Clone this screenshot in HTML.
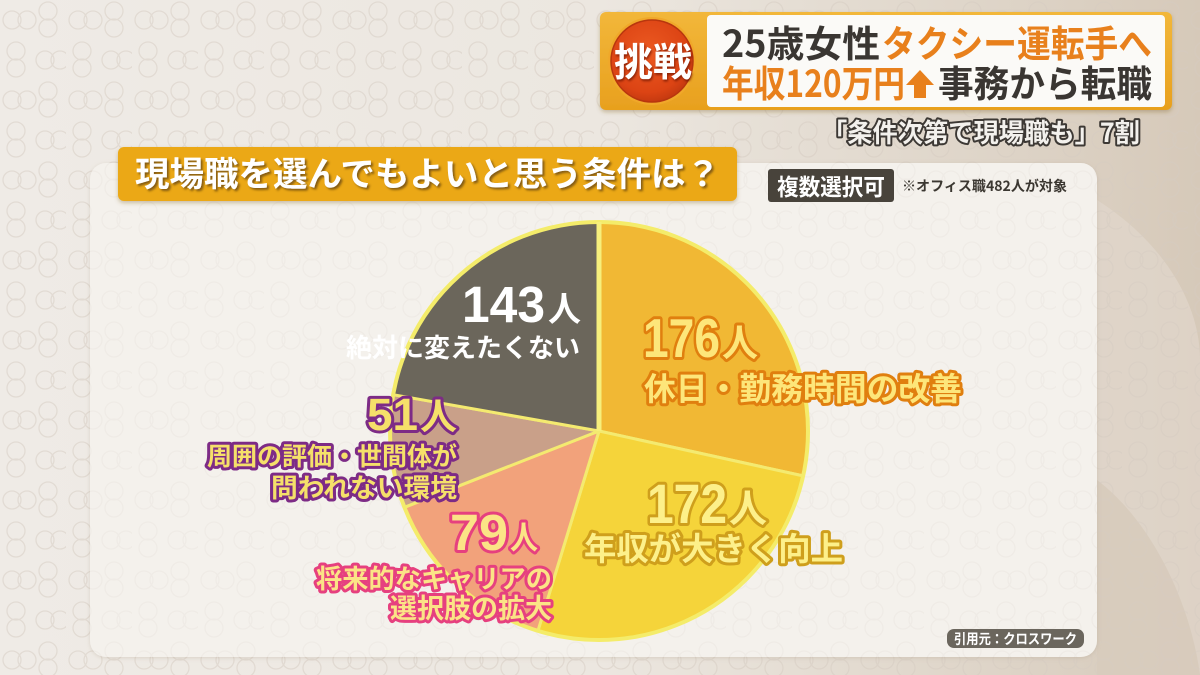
<!DOCTYPE html>
<html><head><meta charset="utf-8">
<style>
html,body{margin:0;padding:0;width:1200px;height:675px;overflow:hidden;background:#e8e2da}
svg{display:block}
text{font-family:"Liberation Sans","Noto Sans CJK JP",sans-serif;font-weight:700}
.jp{font-family:"Noto Sans CJK JP","Liberation Sans",sans-serif;font-weight:700}
.ol{paint-order:stroke;stroke-linejoin:round;stroke-linecap:round}
</style></head><body>
<svg width="1200" height="675" viewBox="0 0 1200 675" xmlns="http://www.w3.org/2000/svg">
<defs>
 <linearGradient id="bg" x1="0" y1="0" x2="1" y2="0">
  <stop offset="0" stop-color="#efebe6"/>
  <stop offset="0.5" stop-color="#ece7e0"/>
  <stop offset="0.85" stop-color="#ddd3c6"/>
  <stop offset="1" stop-color="#d6c9b9"/>
 </linearGradient>
 <pattern id="circ" width="66" height="80" patternUnits="userSpaceOnUse">
  <g fill="none" stroke="#d5cbc1" stroke-width="1.3">
   <circle cx="12" cy="20" r="9"/><circle cx="27" cy="20" r="9"/>
   <circle cx="48" cy="11" r="9"/><circle cx="48" cy="28" r="9"/>
   <circle cx="45" cy="60" r="9"/><circle cx="60" cy="60" r="9"/>
   <circle cx="16" cy="51" r="9"/><circle cx="16" cy="68" r="9"/>
  </g>
 </pattern>
 <radialGradient id="red" cx="0.45" cy="0.4" r="0.6">
  <stop offset="0" stop-color="#ec5a22"/>
  <stop offset="0.8" stop-color="#dc4414"/>
  <stop offset="1" stop-color="#c63a10"/>
 </radialGradient>
 <linearGradient id="frame" x1="0" y1="0" x2="0" y2="1">
  <stop offset="0" stop-color="#f2b73a"/>
  <stop offset="1" stop-color="#e8a01e"/>
 </linearGradient>
 <filter id="sh" x="-10%" y="-30%" width="120%" height="160%">
  <feDropShadow dx="2" dy="2" stdDeviation="1" flood-color="#5a3e0c" flood-opacity="0.7"/>
 </filter>
 <filter id="boxsh" x="-5%" y="-20%" width="110%" height="150%">
  <feDropShadow dx="0" dy="2" stdDeviation="2" flood-color="#7a5a20" flood-opacity="0.35"/>
 </filter>
 <filter id="panelsh" x="-5%" y="-5%" width="110%" height="110%">
  <feDropShadow dx="0" dy="1" stdDeviation="2" flood-color="#a89880" flood-opacity="0.3"/>
 </filter>
</defs>

<!-- background -->
<rect x="0" y="0" width="1200" height="675" fill="url(#bg)"/>
<path d="M1097 200 C1160 240 1200 300 1200 360 L1200 675 L1097 675 Z" fill="#e2d9ce" opacity="0.6"/>
<path d="M1097 480 C1150 520 1190 600 1200 675 L1097 675 Z" fill="#d3c6b5" opacity="0.6"/>
<rect x="0" y="0" width="1200" height="675" fill="url(#circ)" opacity="0.5"/>

<!-- panel -->
<rect x="90" y="163" width="1007" height="494" rx="16" fill="#f4f1ec" filter="url(#panelsh)"/>
<rect x="90" y="163" width="1007" height="494" rx="16" fill="url(#circ)" opacity="0.15"/>

<!-- title banner -->
<rect x="118" y="147" width="619" height="54" rx="6" fill="#eba817" filter="url(#boxsh)"/>
<text class="jp" x="135" y="186" font-size="34" fill="#ffffff" textLength="585" lengthAdjust="spacingAndGlyphs" filter="url(#sh)">現場職を選んでもよいと思う条件は？</text>

<!-- multi select -->
<rect x="768" y="169" width="126" height="33" rx="3" fill="#48433b"/>
<text class="jp" x="777" y="195" font-size="23" fill="#ffffff" textLength="108" lengthAdjust="spacingAndGlyphs">複数選択可</text>
<text class="jp" x="902" y="191" font-size="14" fill="#3b3731" textLength="165" lengthAdjust="spacingAndGlyphs">※オフィス職482人が対象</text>

<!-- pie -->
<g stroke="#f4ea70" stroke-width="3" stroke-linejoin="round">
 <path d="M599 431 L599 222 A209 209 0 0 1 803.1 475.9 Z" fill="#f1b834"/>
 <path d="M599 431 L803.1 475.9 A209 209 0 0 1 537.9 630.9 Z" fill="#f5d43a"/>
 <path d="M599 431 L537.9 630.9 A209 209 0 0 1 404.4 507.3 Z" fill="#f2a27b"/>
 <path d="M599 431 L404.4 507.3 A209 209 0 0 1 393.2 394.7 Z" fill="#c9a089"/>
 <path d="M599 431 L393.2 394.7 A209 209 0 0 1 599 222 Z" fill="#6b665b"/>
</g>
<circle cx="599" cy="431" r="209" fill="none" stroke="#f4ec6a" stroke-width="4"/>
<line x1="599" y1="222" x2="599" y2="431" stroke="#f6ef7c" stroke-width="5"/>

<!-- 143 -->
<text x="462" y="322" font-size="51" fill="#ffffff" textLength="83" lengthAdjust="spacingAndGlyphs">143</text>
<text class="jp" x="548" y="321" font-size="34" fill="#ffffff" textLength="33" lengthAdjust="spacingAndGlyphs">人</text>
<text class="jp" x="346" y="357" font-size="26" fill="#ffffff" textLength="234" lengthAdjust="spacingAndGlyphs">絶対に変えたくない</text>

<!-- 176 -->
<g class="ol" fill="#fde67a" stroke="#e07f0f" stroke-width="6">
 <text x="643" y="357" font-size="55" textLength="77" lengthAdjust="spacingAndGlyphs">176</text>
 <text class="jp" x="722" y="356" font-size="37" textLength="36" lengthAdjust="spacingAndGlyphs">人</text>
 <text class="jp" x="644" y="400" font-size="32" textLength="318" lengthAdjust="spacingAndGlyphs">休日・勤務時間の改善</text>
</g>

<!-- 172 -->
<g class="ol" fill="#fdf08a" stroke="#cf9f1c" stroke-width="6">
 <text x="647" y="523" font-size="56" textLength="80" lengthAdjust="spacingAndGlyphs">172</text>
 <text class="jp" x="729" y="522" font-size="38" textLength="38" lengthAdjust="spacingAndGlyphs">人</text>
 <text class="jp" x="584" y="560" font-size="32" textLength="259" lengthAdjust="spacingAndGlyphs">年収が大きく向上</text>
</g>

<!-- 79 -->
<g class="ol" fill="#fbe486" stroke="#e6407f" stroke-width="6">
 <text x="450" y="550" font-size="51" textLength="58" lengthAdjust="spacingAndGlyphs">79</text>
 <text class="jp" x="510" y="549" font-size="32" textLength="28" lengthAdjust="spacingAndGlyphs">人</text>
 <text class="jp" x="316" y="588" font-size="26" textLength="236" lengthAdjust="spacingAndGlyphs">将来的なキャリアの</text>
 <text class="jp" x="390" y="618" font-size="27" textLength="162" lengthAdjust="spacingAndGlyphs">選択肢の拡大</text>
</g>

<!-- 51 -->
<g class="ol" fill="#f5e06a" stroke="#7d2b86" stroke-width="6">
 <text x="367" y="430" font-size="45" textLength="51" lengthAdjust="spacingAndGlyphs">51</text>
 <text class="jp" x="420" y="429" font-size="36" textLength="37" lengthAdjust="spacingAndGlyphs">人</text>
 <text class="jp" x="207" y="465" font-size="25" textLength="250" lengthAdjust="spacingAndGlyphs">周囲の評価・世間体が</text>
 <text class="jp" x="271" y="497" font-size="26" textLength="186" lengthAdjust="spacingAndGlyphs">問われない環境</text>
</g>

<!-- source -->
<rect x="947" y="629" width="137" height="19" rx="7" fill="#6b665d"/>
<text class="jp" x="954" y="644" font-size="14" fill="#ffffff" textLength="123" lengthAdjust="spacingAndGlyphs">引用元：クロスワーク</text>

<!-- top banner -->
<rect x="600" y="12" width="572" height="98" rx="6" fill="url(#frame)" filter="url(#boxsh)"/>
<rect x="707" y="15" width="458" height="92" rx="4" fill="#fbfaf7"/>
<circle cx="652" cy="61" r="44" fill="#f0a82a"/>
<circle cx="652" cy="61" r="41" fill="url(#red)" stroke="#b8360e" stroke-width="1.5"/>
<text class="jp" x="614" y="76" font-size="39" fill="#ffffff" textLength="78" lengthAdjust="spacingAndGlyphs" style="filter:drop-shadow(1px 2px 1px rgba(110,20,0,0.7))">挑戦</text>

<text class="jp" x="722" y="57" font-size="37" fill="#3a3632" textLength="158" lengthAdjust="spacingAndGlyphs">25歳女性</text>
<text class="jp" x="882" y="57" font-size="37" fill="#e8801c" textLength="270" lengthAdjust="spacingAndGlyphs">タクシー運転手へ</text>
<text class="jp" x="722" y="97" font-size="37" fill="#e8801c" textLength="183" lengthAdjust="spacingAndGlyphs">年収120万円</text>
<polygon points="920,70 934,85 926,85 926,98 914,98 914,85 906,85" fill="#e8801c"/>
<text class="jp" x="938" y="97" font-size="37" fill="#3a3632" textLength="214" lengthAdjust="spacingAndGlyphs">事務から転職</text>

<text class="jp ol" x="822" y="142" font-size="26" fill="#f3f1ed" stroke="#3d3935" stroke-width="4" textLength="318" lengthAdjust="spacingAndGlyphs">「条件次第で現場職も」7割</text>
</svg>
</body></html>
